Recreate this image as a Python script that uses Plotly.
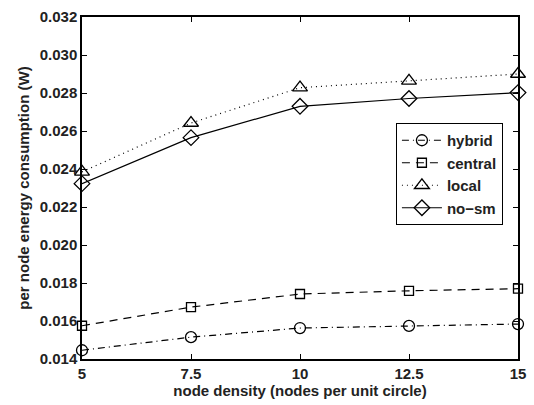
import plotly.graph_objects as go

density = [5, 7.5, 10, 12.5, 15]
hybrid = [0.01446, 0.01515, 0.01563, 0.01574, 0.01584]
central = [0.01575, 0.01673, 0.01742, 0.01759, 0.01770]
local = [0.02385, 0.02642, 0.02828, 0.02864, 0.02900]
no_sm = [0.02323, 0.02565, 0.02730, 0.02771, 0.02802]

x_ticks = [5, 7.5, 10, 12.5, 15]
x_tick_labels = ["5", "7.5", "10", "12.5", "15"]
y_ticks = [0.014, 0.016, 0.018, 0.020, 0.022, 0.024, 0.026, 0.028, 0.030, 0.032]
y_tick_labels = ["0.014", "0.016", "0.018", "0.020", "0.022", "0.024", "0.026", "0.028", "0.030", "0.032"]

series = [
    ("hybrid", hybrid, "7px,4px,1px,4px", "circle-open", 11),
    ("central", central, "8px,6px", "square-open", 9),
    ("local", local, "1px,4px", "triangle-up-open", 13),
    ("no\u2212sm", no_sm, "solid", "diamond-open", 12),
]

fig = go.Figure()
for name, vals, dash, sym, sz in series:
    fig.add_trace(go.Scatter(
        x=density, y=vals, name="<b>" + name + "</b>", mode="lines+markers",
        line=dict(color="black", width=1.2, dash=dash),
        marker=dict(symbol=sym, size=sz, color="black", line=dict(width=1.3, color="black")),
        cliponaxis=False,
    ))

font_family = "Liberation Sans, Arial, sans-serif"
fig.update_layout(
    width=534, height=405,
    margin=dict(l=82, r=8, t=10, b=46),
    paper_bgcolor="white", plot_bgcolor="white",
    font=dict(family=font_family, size=14, color="#222"),
    showlegend=True,
    legend=dict(
        x=0.72, y=0.69, xanchor="left", yanchor="top",
        bgcolor="white", bordercolor="black", borderwidth=1,
        font=dict(size=15, family=font_family, color="#222"),
        tracegroupgap=0, itemwidth=40,
    ),
    xaxis=dict(
        range=[5, 15], tickvals=x_ticks,
        ticktext=["<b>" + t + "</b>" for t in x_tick_labels],
        ticks="inside", ticklen=5, tickcolor="black", mirror="ticks",
        showline=True, linecolor="black", linewidth=1.5, showgrid=False, zeroline=False,
        tickfont=dict(size=15),
        title=dict(text="<b>node density (nodes per unit circle)</b>", font=dict(size=15), standoff=2),
    ),
    yaxis=dict(
        range=[0.014, 0.032], tickvals=y_ticks,
        ticktext=["<b>" + t + "</b>" for t in y_tick_labels],
        ticks="inside", ticklen=5, tickcolor="black", mirror="ticks",
        showline=True, linecolor="black", linewidth=1.5, showgrid=False, zeroline=False,
        tickfont=dict(size=15),
        title=dict(text="<b>per node energy consumption (W)</b>", font=dict(size=15), standoff=6),
    ),
)

fig.write_html("out.html")
